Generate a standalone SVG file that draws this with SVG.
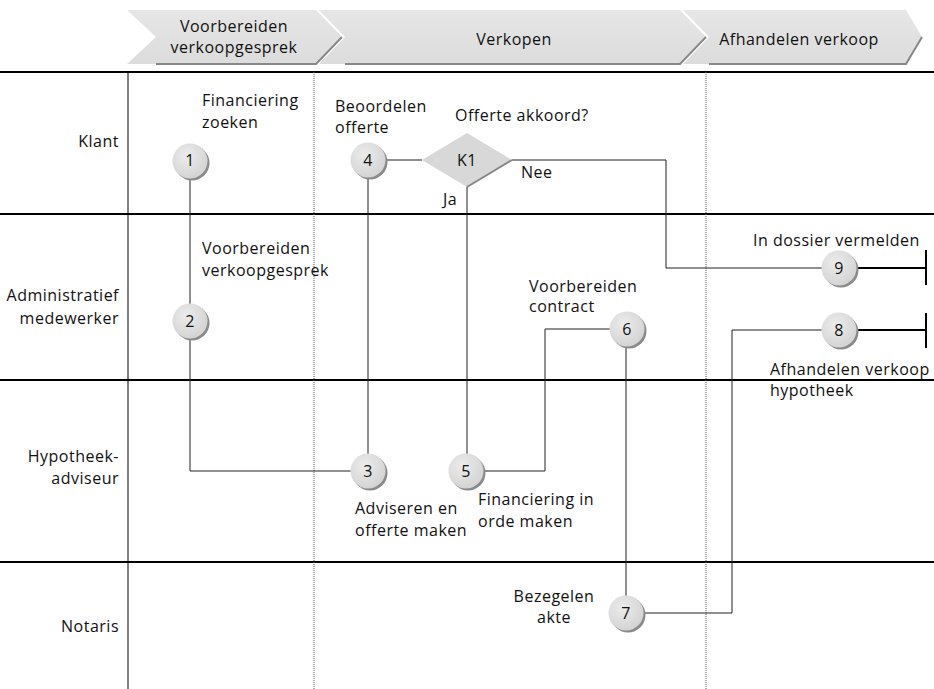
<svg xmlns="http://www.w3.org/2000/svg" width="934" height="689" viewBox="0 0 934 689">
<defs>
<radialGradient id="g" cx="0.4" cy="0.35" r="0.7">
<stop offset="0" stop-color="#ececec"/>
<stop offset="1" stop-color="#d2d2d2"/>
</radialGradient>
<linearGradient id="cg" x1="0" y1="0" x2="0" y2="1">
<stop offset="0" stop-color="#e6e6e6"/>
<stop offset="1" stop-color="#dcdcdc"/>
</linearGradient>
<g id="circ">
<circle cx="2" cy="2" r="17.5" fill="#8a8a8a"/>
<circle cx="0" cy="0" r="17.5" fill="url(#g)"/>
</g>
</defs>
<style>
text{font-family:"Open Sans","Noto Sans","Liberation Sans",sans-serif;font-size:16px;letter-spacing:0.5px;fill:#111}
.lane{stroke:#000;stroke-width:2}
.dot{stroke:#555;stroke-width:1;stroke-dasharray:1 1}
.con{fill:none;stroke:#222;stroke-width:1}
.end{fill:none;stroke:#000;stroke-width:2}
.chev{fill:url(#cg)}
.sh{fill:none;stroke:#888;stroke-width:2}
.r{text-anchor:end}
.m{text-anchor:middle}
</style>
<rect width="934" height="689" fill="#fff"/>
<g id="header">
<polygon class="chev" points="127,10 316,10 342,37 316,64 127,64 156,37"/>
<polyline class="sh" points="342,37 316,64 156,64"/>
<polygon class="chev" points="319,10 680,10 706,37 680,64 319,64 345,37"/>
<polyline class="sh" points="706,37 680,64 345,64"/>
<polygon class="chev" points="683,10 906,10 922,37 906,64 683,64 709,37"/>
<polyline class="sh" points="922,37 906,64 709,64"/>
<text class="m" x="234" y="32">Voorbereiden</text>
<text class="m" x="234" y="53">verkoopgesprek</text>
<text class="m" x="514" y="45">Verkopen</text>
<text class="m" x="799" y="45">Afhandelen verkoop</text>
</g>
<g id="lanes">
<line class="lane" x1="0" y1="72" x2="934" y2="72"/>
<line class="lane" x1="0" y1="214" x2="934" y2="214"/>
<line class="lane" x1="0" y1="380" x2="934" y2="380"/>
<line class="lane" x1="0" y1="562" x2="934" y2="562"/>
<line stroke="#000" stroke-width="1" x1="128" y1="72" x2="128" y2="689"/>
<line class="dot" x1="314" y1="72" x2="314" y2="689"/>
<line class="dot" x1="706" y1="72" x2="706" y2="689"/>
<text class="r" x="119" y="147">Klant</text>
<text class="r" x="119" y="301">Administratief</text>
<text class="r" x="119" y="324">medewerker</text>
<text class="r" x="119" y="462">Hypotheek-</text>
<text class="r" x="119" y="484">adviseur</text>
<text class="r" x="119" y="632">Notaris</text>
</g>
<g id="connectors">
<line class="con" x1="190" y1="178" x2="190" y2="305"/>
<polyline class="con" points="190,338 190,471 351,471"/>
<line class="con" x1="385" y1="160" x2="422" y2="160"/>
<line class="con" x1="368" y1="177" x2="368" y2="455"/>
<line class="con" x1="467" y1="187" x2="467" y2="455"/>
<polyline class="con" points="512,160 666,160 666,268 822,268"/>
<polyline class="con" points="483,471 545,471 545,329 610,329"/>
<line class="con" x1="626" y1="346" x2="626" y2="597"/>
<polyline class="con" points="643,613 732,613 732,330 822,330"/>
<line class="end" x1="856" y1="268" x2="926" y2="268"/>
<line class="end" x1="926" y1="250" x2="926" y2="285"/>
<line class="end" x1="856" y1="330" x2="926" y2="330"/>
<line class="end" x1="926" y1="313" x2="926" y2="348"/>
<text x="443" y="205">Ja</text>
<text x="521" y="178">Nee</text>
</g>
<g id="n1"><use href="#circ" x="190" y="161"/><text class="m" x="190" y="166">1</text>
<text x="202" y="106">Financiering</text><text x="202" y="128">zoeken</text></g>
<g id="n4"><use href="#circ" x="368" y="160"/><text class="m" x="368" y="166">4</text>
<text x="335" y="112">Beoordelen</text><text x="335" y="133">offerte</text></g>
<g id="k1"><polygon points="422,160 467,133 512,160 467,187" fill="#d8d8d8"/>
<polyline points="512,160 467,187" fill="none" stroke="#888" stroke-width="2"/>
<text class="m" x="467" y="166">K1</text>
<text x="455" y="121">Offerte akkoord?</text></g>
<g id="n2"><use href="#circ" x="190" y="321"/><text class="m" x="190" y="327">2</text>
<text x="202" y="254">Voorbereiden</text><text x="202" y="276">verkoopgesprek</text></g>
<g id="n3"><use href="#circ" x="368" y="471"/><text class="m" x="368" y="477">3</text>
<text x="355" y="514">Adviseren en</text><text x="355" y="536">offerte maken</text></g>
<g id="n5"><use href="#circ" x="466" y="471"/><text class="m" x="466" y="477">5</text>
<text x="478" y="505">Financiering in</text><text x="478" y="527">orde maken</text></g>
<g id="n6"><use href="#circ" x="627" y="329"/><text class="m" x="627" y="335">6</text>
<text x="529" y="292">Voorbereiden</text><text x="529" y="312">contract</text></g>
<g id="n7"><use href="#circ" x="626" y="613"/><text class="m" x="626" y="619">7</text>
<text class="m" x="554" y="602">Bezegelen</text><text class="m" x="554" y="623">akte</text></g>
<g id="n8"><use href="#circ" x="839" y="330"/><text class="m" x="839" y="336">8</text>
<text x="770" y="375">Afhandelen verkoop</text><text x="770" y="396">hypotheek</text></g>
<g id="n9"><use href="#circ" x="839" y="268"/><text class="m" x="839" y="274">9</text>
<text x="753" y="246">In dossier vermelden</text></g>
</svg>
